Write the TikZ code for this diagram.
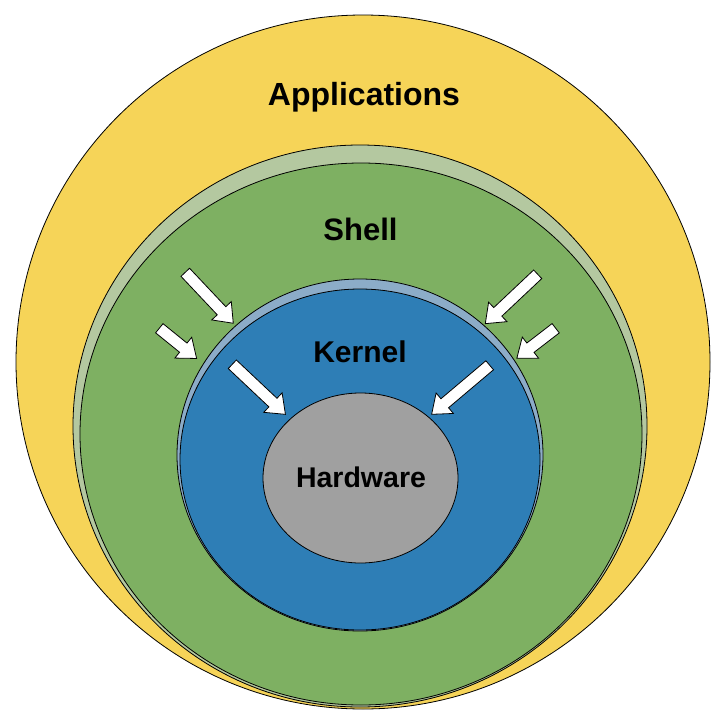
\documentclass[tikz,border=0pt]{standalone}
\usepackage{xcolor}
\usepackage{fontspec}
\setmainfont{Liberation Sans}
\usetikzlibrary{shapes.geometric, shapes.arrows}
\definecolor{appyellow}{HTML}{F6D458}
\definecolor{shellgreen}{HTML}{7EB062}
\definecolor{shellrim}{HTML}{B4C8A0}
\definecolor{kernblue}{HTML}{2E7EB6}
\definecolor{kernrim}{HTML}{8CACC8}
\definecolor{hwgray}{HTML}{A0A0A0}

\begin{document}
\begin{tikzpicture}[x=1pt, y=-1pt,
  layer/.style={ellipse, draw=black, line width=0.8pt, inner sep=0pt},
  lbl/.style={anchor=base, font=\bfseries\fontsize{#1}{#1}\selectfont},
  inarrow/.style={single arrow, draw=black, line width=0.8pt, fill=white, inner xsep=0pt, inner ysep=5.5pt,
    single arrow head extend=7.5pt, single arrow tip angle=76, anchor=tail}]
  \useasboundingbox (0,0) rectangle (720,720);
  \fill[white] (0,0) rectangle (720,720);
  % layers, outside in
  \node[layer, fill=appyellow, minimum width=694pt, minimum height=694pt] (apps) at (363,362) {};
  \node[layer, fill=shellrim, minimum width=574pt, minimum height=562pt] (shellrim) at (360,426) {};
  \node[layer, fill=shellgreen, minimum width=562pt, minimum height=542pt] (shell) at (361,434) {};
  \node[layer, fill=kernrim, minimum width=366pt, minimum height=352pt] (kernelrim) at (360,455) {};
  \node[layer, fill=kernblue, minimum width=360pt, minimum height=341pt] (kernel) at (360,459.5) {};
  \node[layer, fill=hwgray, minimum width=195pt, minimum height=170pt] (hw) at (360.5,478) {};
  % white arrows (tail x / tail y / angle / length)
  \foreach \x/\y/\a/\l [count=\i] in {185/272/-46.7/70pt, 159/328/-39.0/48pt,
      538/274/-136.7/72pt, 556/328/-142.4/49pt, 232/364/-43.3/73pt, 490/365/-139.8/76pt}
    \node[inarrow, minimum height=\l, rotate=\a] (arr\i) at (\x,\y) {};
  % labels
  \node[lbl=32] (appslbl) at (364,105) {Applications};
  \node[lbl=31] (shelllbl) at (360.5,240) {Shell};
  \node[lbl=30] (kernellbl) at (360,362) {Kernel};
  \node[lbl=28.5] (hwlbl) at (361,487) {Hardware};
\end{tikzpicture}
\end{document}
